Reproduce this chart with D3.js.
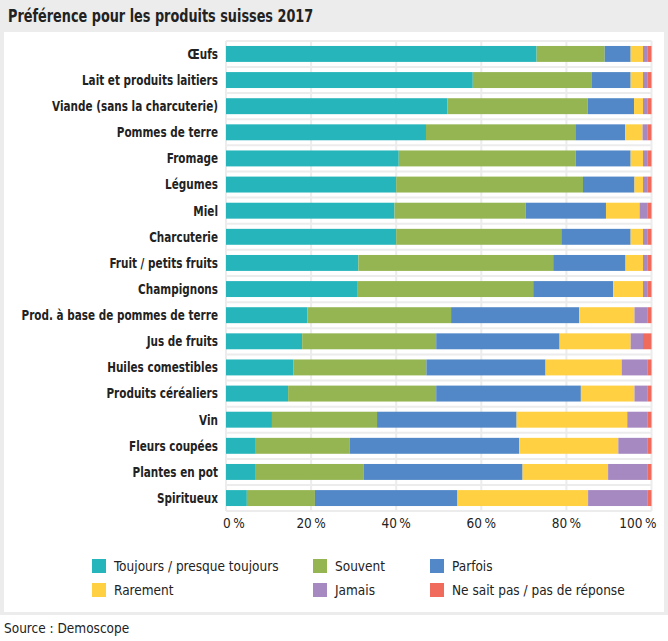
<!DOCTYPE html>
<html><head><meta charset="utf-8">
<script src="https://cdn.jsdelivr.net/npm/d3@7"></script>
<style>
html,body{margin:0;padding:0;background:#fff;}
svg{display:block;font-family:"DejaVu Sans Condensed","DejaVu Sans",sans-serif;}
</style></head>
<body><svg id="c" width="668" height="641"></svg>
<script>
const categories = ["Œufs","Lait et produits laitiers","Viande (sans la charcuterie)","Pommes de terre","Fromage","Légumes","Miel","Charcuterie","Fruit / petits fruits","Champignons","Prod. à base de pommes de terre","Jus de fruits","Huiles comestibles","Produits céréaliers","Vin","Fleurs coupées","Plantes en pot","Spiritueux"];
const seriesNames = ["Toujours / presque toujours","Souvent","Parfois","Rarement","Jamais","Ne sait pas / pas de réponse"];
const toujours = [73, 58, 52, 47, 40.6, 40, 39.6, 40, 31.1, 30.8, 19.1, 17.9, 15.8, 14.6, 10.8, 7.0, 7.0, 4.9];
const souvent  = [16, 28, 33, 35.1, 41.6, 43.9, 30.8, 38.8, 45.8, 41.4, 33.8, 31.5, 31.3, 34.8, 24.7, 22.1, 25.4, 16.0];
const parfois  = [6.1, 9.1, 10.9, 11.7, 12.9, 12.1, 18.9, 16.3, 17.0, 18.8, 30.1, 29.0, 28.0, 34.0, 32.8, 39.8, 37.3, 33.5];
const rarement = [2.9, 2.9, 2.1, 4.1, 2.9, 2.0, 7.9, 2.9, 4.1, 7.0, 13.0, 16.7, 17.9, 12.6, 26.0, 23.3, 20.1, 30.7];
const jamais   = [1, 1, 1, 1.1, 1, 1, 1.8, 1, 1, 1, 3.0, 2.9, 6.0, 3.0, 4.7, 6.8, 9.2, 13.9];
const nsp      = [1, 1, 1, 1, 1, 1, 1, 1, 1, 1, 1, 2, 1, 1, 1, 1, 1, 1];
const tickValues = [0,20,40,60,80,100];
const tickLabels = ["0\u2009%","20\u2009%","40\u2009%","60\u2009%","80\u2009%","100\u2009%"];
const colors = ["#26b5bb","#95b553","#5288c7","#ffd042","#a689c0","#f06b5b"];
const title = "Préférence pour les produits suisses 2017";
const source = "Source : Demoscope";

const seriesData = [toujours, souvent, parfois, rarement, jamais, nsp];
const rows = categories.map((c,i)=>{const o={cat:c}; seriesNames.forEach((s,j)=>o[s]=seriesData[j][i]); return o;});
const stacked = d3.stack().keys(seriesNames)(rows);

const svg = d3.select("#c");
svg.append("rect").attr("x",0).attr("y",0).attr("width",668).attr("height",615).attr("fill","#ececec");
svg.append("rect").attr("x",4).attr("y",32).attr("width",660).attr("height",580).attr("fill","#fff");
svg.append("text").attr("transform","translate(8,22) scale(0.84,1)").attr("font-size",17).attr("font-weight","bold").attr("fill","#222").text(title);
svg.append("text").attr("x",4).attr("y",633).attr("font-size",13.5).attr("fill","#222").text(source);

const L=226, R=651.5, T=41, B=511;
const x = d3.scaleLinear().domain([0,100]).range([L,R]);
const y = d3.scaleBand().domain(categories).range([T,B]).paddingInner(0.39).paddingOuter(0.19);

const g = svg.append("g");
// grid
const step = y.step();
const hLines = d3.range(categories.length+1).map(i=> i===0? T : (i===categories.length? B : y(categories[i]) - (step - y.bandwidth())/2));
g.selectAll(".hg").data(hLines).join("line").attr("x1",L).attr("x2",R).attr("y1",d=>d).attr("y2",d=>d).attr("stroke","#ececec").attr("stroke-width",2);
g.selectAll(".vg").data(tickValues).join("line").attr("x1",d=>x(d)).attr("x2",d=>x(d)).attr("y1",T).attr("y2",B).attr("stroke","#ececec").attr("stroke-width",2);

// bars
g.selectAll(".s").data(stacked).join("g").attr("fill",(d,i)=>colors[i])
 .selectAll("rect").data(d=>d).join("rect")
 .attr("x",d=>x(d[0])).attr("width",d=>Math.max(0,x(d[1])-x(d[0])))
 .attr("y",d=>y(d.data.cat)).attr("height",y.bandwidth());

// y labels
g.selectAll(".yl").data(categories).join("text")
 .attr("transform",d=>`translate(218,${y(d)+y.bandwidth()/2}) scale(0.83,1)`).attr("dy","0.35em")
 .attr("text-anchor","end").attr("font-size",14).attr("font-weight","bold").attr("fill","#222").text(d=>d);

// x tick labels
g.selectAll(".xl").data(tickValues).join("text")
 .attr("x",(d,i)=> i===0 ? x(d)-3 : (i===tickValues.length-1 ? x(d)+5 : x(d)))
 .attr("y",528)
 .attr("text-anchor",(d,i)=> i===0?"start":(i===tickValues.length-1?"end":"middle"))
 .attr("font-size",13.5).attr("fill","#222").text((d,i)=>tickLabels[i]);

// legend
const legPos = [[92,566],[313,566],[430,566],[92,590],[313,590],[430,590]];
const lg = svg.append("g");
seriesNames.forEach((s,i)=>{
  const [lx,ly]=legPos[i];
  lg.append("rect").attr("x",lx).attr("y",ly-7).attr("width",14).attr("height",14).attr("fill",colors[i]);
  lg.append("text").attr("x",lx+22).attr("y",ly).attr("dy","0.35em").attr("font-size",13.5).attr("fill","#222").text(s);
});
</script></body></html>
